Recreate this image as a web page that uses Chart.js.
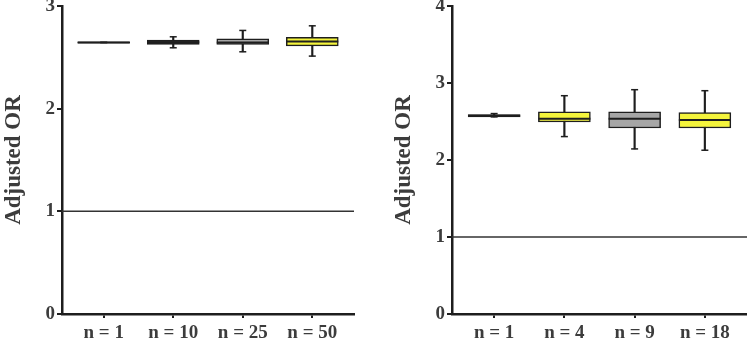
<!DOCTYPE html>
<html>
<head>
<meta charset="utf-8">
<script src="https://cdn.jsdelivr.net/npm/chart.js@4.4.1/dist/chart.umd.min.js"></script>
<style>
body { margin: 0; background: #fff; width: 747px; height: 339px; overflow: hidden; position: relative; }
#leftC { position: absolute; left: 0; top: 0; }
#rightC { position: absolute; left: 390px; top: 0; }
</style>
</head>
<body>
<canvas id="leftC" width="370" height="339"></canvas>
<canvas id="rightC" width="357" height="339"></canvas>
<script>
const leftLabels = ["n = 1", "n = 10", "n = 25", "n = 50"];
const leftMin = [2.645, 2.593, 2.554, 2.512];
const leftQ1 = [2.638, 2.626, 2.626, 2.612];
const leftMedian = [2.645, 2.648, 2.645, 2.655];
const leftQ3 = [2.652, 2.668, 2.681, 2.694];
const leftMax = [2.645, 2.70, 2.762, 2.807];
const leftTicks = [0, 1, 2, 3];

const rightLabels = ["n = 1", "n = 4", "n = 9", "n = 18"];
const rightMin = [2.56, 2.304, 2.144, 2.127];
const rightQ1 = [2.56, 2.494, 2.416, 2.416];
const rightMedian = [2.575, 2.537, 2.537, 2.52];
const rightQ3 = [2.59, 2.624, 2.624, 2.615];
const rightMax = [2.603, 2.835, 2.913, 2.90];
const rightTicks = [0, 1, 2, 3, 4];

const refValue = 1;
const xLo = 0.4;
const xHi = 4.6;

const ink = "#1e1e1e";
const txt = "#3c3c3c";
const serif = "'Liberation Serif', 'Times New Roman', serif";
const leftColors = ["#2a2a2a", "#333333", "#a6a6a6", "#f4f43c"];
const rightColors = ["#2a2a2a", "#f4f43c", "#a6a6a6", "#f4f43c"];

function boxChart(id, labels, mins, q1s, meds, q3s, maxs, ticks, colors, padRight) {
    let xs = labels.map((l, i) => i + 1);
    let pts = (arr) => arr.map((v, i) => ({ x: xs[i], y: v }));
    let spans = (a, b) => a.map((v, i) => ({ x: xs[i], y: [v, b[i]] }));
    let mark = (arr, r, w) => ({
        type: "line",
        data: pts(arr),
        showLine: false,
        pointStyle: "line",
        pointRadius: r,
        pointBorderWidth: w,
        pointBorderColor: ink,
        order: 1,
    });
    new Chart(document.getElementById(id), {
        type: "bar",
        data: {
            datasets: [
                {
                    type: "line",
                    data: [{ x: xLo, y: refValue }, { x: xHi, y: refValue }],
                    borderColor: "#333",
                    borderWidth: 1.5,
                    pointRadius: 0,
                    order: 5,
                },
                {
                    data: spans(mins, maxs),
                    backgroundColor: ink,
                    barThickness: 1.5,
                    grouped: false,
                    order: 4,
                },
                {
                    data: spans(q1s, q3s),
                    backgroundColor: colors,
                    borderColor: ink,
                    borderWidth: 1.5,
                    borderSkipped: false,
                    barThickness: 52,
                    grouped: false,
                    order: 3,
                },
                mark(meds, 26, 2),
                mark(maxs, 3.5, 1.5),
                mark(mins, 3.5, 1.5),
            ],
        },
        options: {
            responsive: false,
            animation: false,
            layout: { autoPadding: false, padding: { top: 6, right: padRight, left: 0, bottom: 0 } },
            plugins: { legend: { display: false }, tooltip: { enabled: false } },
            scales: {
                x: {
                    type: "linear",
                    min: xLo,
                    max: xHi,
                    offset: false,
                    afterBuildTicks: (s) => {
                        s.ticks = xs.map((v) => ({ value: v }));
                    },
                    ticks: {
                        callback: (v) => labels[v - 1],
                        font: { family: serif, size: 19, weight: "bold" },
                        color: txt,
                        padding: 4,
                        maxRotation: 0,
                        autoSkip: false,
                    },
                    grid: { offset: false, drawOnChartArea: false, tickLength: 4, color: ink, lineWidth: 2 },
                    border: { color: ink, width: 2.5 },
                    afterFit: (s) => {
                        s.height = 25;
                    },
                },
                y: {
                    min: 0,
                    max: ticks[ticks.length - 1],
                    afterBuildTicks: (s) => {
                        s.ticks = ticks.map((v) => ({ value: v }));
                    },
                    ticks: {
                        font: { family: serif, size: 19, weight: "bold" },
                        color: txt,
                        padding: 2,
                    },
                    grid: { drawOnChartArea: false, tickLength: 5, color: ink, lineWidth: 2 },
                    border: { color: ink, width: 2.5 },
                    title: {
                        display: true,
                        text: "Adjusted OR",
                        font: { family: serif, size: 23, weight: "bold" },
                        color: txt,
                        padding: { top: 0, bottom: 0 },
                    },
                    afterFit: (s) => {
                        s.width = 62;
                        s.paddingTop = 0;
                        s.paddingBottom = 0;
                    },
                },
            },
        },
    });
}

boxChart("leftC", leftLabels, leftMin, leftQ1, leftMedian, leftQ3, leftMax, leftTicks, leftColors, 16);
boxChart("rightC", rightLabels, rightMin, rightQ1, rightMedian, rightQ3, rightMax, rightTicks, rightColors, 0);
</script>
</body>
</html>
